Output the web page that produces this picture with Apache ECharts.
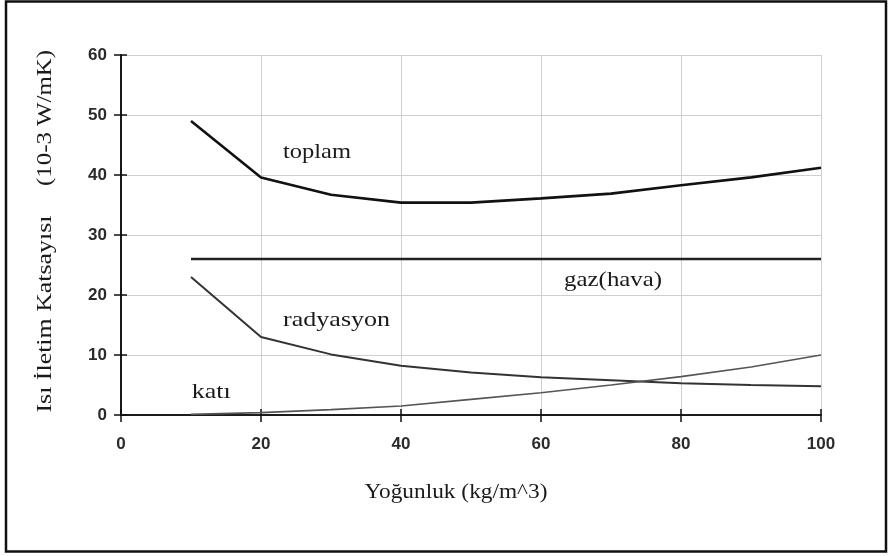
<!DOCTYPE html>
<html><head><meta charset="utf-8">
<script src="https://cdn.jsdelivr.net/npm/echarts@6/dist/echarts.min.js"></script>
<style>html,body{margin:0;padding:0;background:#fff}#c{width:888px;height:556px}</style>
</head><body><div id="c"></div>
<script>
// ---- data ----
const densities = [10, 20, 30, 40, 50, 60, 70, 80, 90, 100];
const toplam    = [49, 39.6, 36.7, 35.4, 35.4, 36.1, 36.9, 38.3, 39.6, 41.2];
const gazHava   = [26, 26, 26, 26, 26, 26, 26, 26, 26, 26];
const radyasyon = [23, 13, 10.1, 8.2, 7.1, 6.3, 5.8, 5.3, 5.0, 4.8];
const kati      = [0.1, 0.4, 0.9, 1.5, 2.6, 3.7, 5.0, 6.4, 8.0, 10.0];
const xTicks = [0, 20, 40, 60, 80, 100];
const yTicks = [0, 10, 20, 30, 40, 50, 60];
const seriesNames = ['toplam', 'gaz(hava)', 'radyasyon', 'katı'];
// curve label anchor positions, in data coordinates
const labelAtX = [28.0, 70.3, 30.8, 12.9];
const labelAtY = [43.8, 22.5, 15.8, 3.7];
const xTitle = 'Yoğunluk (kg/m^3)';
const yTitleA = 'Isı İletim Katsayısı';
const yTitleB = '(10-3 W/mK)';

// ---- styles ----
const labelWidths = [68, 98, 107, 39];
const serifFont = '"Liberation Serif", "Times New Roman", serif';
const mc = document.createElement('canvas').getContext('2d');
function textScale(txt, size, target) {
  mc.font = 'normal ' + size + 'px ' + serifFont;
  const w = mc.measureText(txt).width;
  return w > 0 ? target / w : 1;
}
function txtEl(txt, x, y, size, target, rot) {
  return {
    type: 'text', x: x, y: y, rotation: rot || 0,
    scaleX: textScale(txt, size, target), scaleY: 1, z: 50,
    style: {
      text: txt, font: 'normal ' + size + 'px ' + serifFont, fill: '#1a1a1a',
      textAlign: 'center', textVerticalAlign: 'middle', align: 'center', verticalAlign: 'middle'
    }
  };
}
const zip = (xs, ys) => xs.map((x, i) => [x, ys[i]]);

const chart = echarts.init(document.getElementById('c'), null, { renderer: 'canvas' });
const tickLabel = { fontFamily: '"Liberation Sans", Arial, sans-serif', fontWeight: 'bold', fontSize: 17, color: '#2b2b2b' };
const axisMin = (a) => a[0], axisMax = (a) => a[a.length - 1], step = (a) => a[1] - a[0];

const option = {
  animation: false,
  backgroundColor: '#fff',
  grid: { left: 121, right: 67, top: 55, bottom: 141, containLabel: false },
  xAxis: [
    { type: 'value', position: 'bottom', min: axisMin(xTicks), max: axisMax(xTicks), interval: step(xTicks),
      axisLine: { show: true, onZero: false, lineStyle: { color: '#111', width: 1.6 } },
      axisTick: { show: true, inside: false, length: 7, lineStyle: { color: '#111', width: 1.5 } },
      axisLabel: Object.assign({ margin: 21 }, tickLabel),
      splitLine: { show: true, lineStyle: { color: '#cfcfcf', width: 1 } } },
    { type: 'value', position: 'bottom', min: axisMin(xTicks), max: axisMax(xTicks), interval: step(xTicks),
      axisLine: { show: true, onZero: false, lineStyle: { color: '#111', width: 1.6 } },
      axisTick: { show: true, inside: true, length: 6, lineStyle: { color: '#111', width: 1.5 } },
      axisLabel: { show: false }, splitLine: { show: false } }
  ],
  yAxis: [
    { type: 'value', position: 'left', min: axisMin(yTicks), max: axisMax(yTicks), interval: step(yTicks),
      axisLine: { show: true, onZero: false, lineStyle: { color: '#111', width: 1.6 } },
      axisTick: { show: true, inside: false, length: 7, lineStyle: { color: '#111', width: 1.5 } },
      axisLabel: Object.assign({ margin: 14 }, tickLabel),
      splitLine: { show: true, lineStyle: { color: '#cfcfcf', width: 1 } } },
    { type: 'value', position: 'left', min: axisMin(yTicks), max: axisMax(yTicks), interval: step(yTicks),
      axisLine: { show: true, onZero: false, lineStyle: { color: '#111', width: 1.6 } },
      axisTick: { show: true, inside: true, length: 6, lineStyle: { color: '#111', width: 1.5 } },
      axisLabel: { show: false }, splitLine: { show: false } }
  ],
  series: [
    { name: seriesNames[0], type: 'line', data: zip(densities, toplam), showSymbol: false, z: 5,
      lineStyle: { color: '#111', width: 2.6 } },
    { name: seriesNames[1], type: 'line', data: zip(densities, gazHava), showSymbol: false, z: 4,
      lineStyle: { color: '#222', width: 2.4 } },
    { name: seriesNames[2], type: 'line', data: zip(densities, radyasyon), showSymbol: false, z: 3,
      lineStyle: { color: '#333', width: 2 } },
    { name: seriesNames[3], type: 'line', data: zip(densities, kati), showSymbol: false, z: 3,
      lineStyle: { color: '#555', width: 1.6 } }
  ]
};
chart.setOption(option);

const g = [
  { type: 'rect', shape: { x: 6, y: 1.5, width: 880, height: 550 }, z: 60,
    style: { fill: 'none', stroke: '#111', lineWidth: 2.5 } },
  txtEl(xTitle, 456, 493, 20, 183, 0),
  txtEl(yTitleA, 46, 314, 20, 197, Math.PI / 2),
  txtEl(yTitleB, 46, 118, 20, 136, Math.PI / 2)
];
seriesNames.forEach((nm, i) => {
  const p = chart.convertToPixel({ gridIndex: 0 }, [labelAtX[i], labelAtY[i]]);
  g.push(txtEl(nm, p[0], p[1], 21, labelWidths[i], 0));
});
chart.setOption({ graphic: g });
</script></body></html>
